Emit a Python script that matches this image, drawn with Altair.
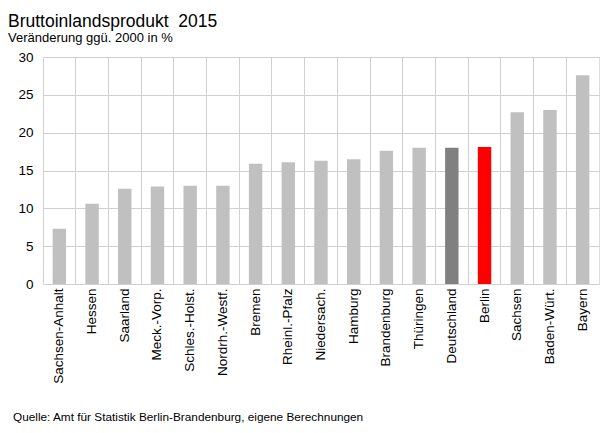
import altair as alt
import pandas as pd

regions = ["Sachsen-Anhalt", "Hessen", "Saarland", "Meck.-Vorp.", "Schles.-Holst.",
           "Nordrh.-Westf.", "Bremen", "Rheinl.-Pfalz", "Niedersach.", "Hamburg",
           "Brandenburg", "Thüringen", "Deutschland", "Berlin", "Sachsen",
           "Baden-Würt.", "Bayern"]
values = [7.3, 10.6, 12.6, 12.9, 13.0, 13.0, 15.9, 16.1, 16.3, 16.5,
          17.6, 18.0, 18.0, 18.1, 22.7, 23.0, 27.6]
groups = ["Land"] * 12 + ["Deutschland", "Berlin"] + ["Land"] * 3

title_text = "Bruttoinlandsprodukt\u00a0\u00a02015"
subtitle_text = "Veränderung ggü. 2000 in %"
source_text = "Quelle: Amt für Statistik Berlin-Brandenburg, eigene Berechnungen"

df = pd.DataFrame({"region": regions, "value": values, "group": groups})
one = pd.DataFrame({"k": [0]})

FONT = "Liberation Sans"
GRID = "#d0d0d0"

bars = alt.Chart(df).mark_bar(width=alt.RelativeBandSize(0.41)).encode(
    x=alt.X("region:N", sort=regions, title=None,
            scale=alt.Scale(paddingInner=0, paddingOuter=0),
            axis=alt.Axis(labelAngle=-90, labelFontSize=13.5, labelFont=FONT,
                          labelColor="#000000", labelPadding=4, ticks=False,
                          domain=False, grid=True, gridColor=GRID,
                          bandPosition=0, labelBound=False)),
    y=alt.Y("value:Q", title=None,
            scale=alt.Scale(domain=[0, 30], nice=False),
            axis=alt.Axis(values=[0, 5, 10, 15, 20, 25, 30], labelFontSize=13.5,
                          labelFont=FONT, labelColor="#000000", ticks=False,
                          domain=False, grid=True, gridColor=GRID, labelPadding=10)),
    color=alt.Color("group:N", legend=None,
                    scale=alt.Scale(domain=["Land", "Deutschland", "Berlin"],
                                    range=["#c0c0c0", "#808080", "#ff0000"])),
)

def label(text, x, y, size):
    return alt.Chart(one).mark_text(
        align="left", baseline="alphabetic", font=FONT, fontSize=size, color="#000000"
    ).encode(x=alt.value(x), y=alt.value(y), text=alt.value(text))

title = label(title_text, -35, -30, 17.5)
subtitle = label(subtitle_text, -35, -15, 13)
source = label(source_text, -30, 364, 11.8)

chart = alt.layer(bars, title, subtitle, source).properties(
    width=556, height=227,
    padding={"left": 35, "top": 49, "right": 9, "bottom": 141},
    autosize=alt.AutoSizeParams(type="none"),
).configure_view(stroke=GRID, strokeWidth=1).configure(background="white")

chart.save("out.html", embed_options={"renderer": "svg", "actions": False})
